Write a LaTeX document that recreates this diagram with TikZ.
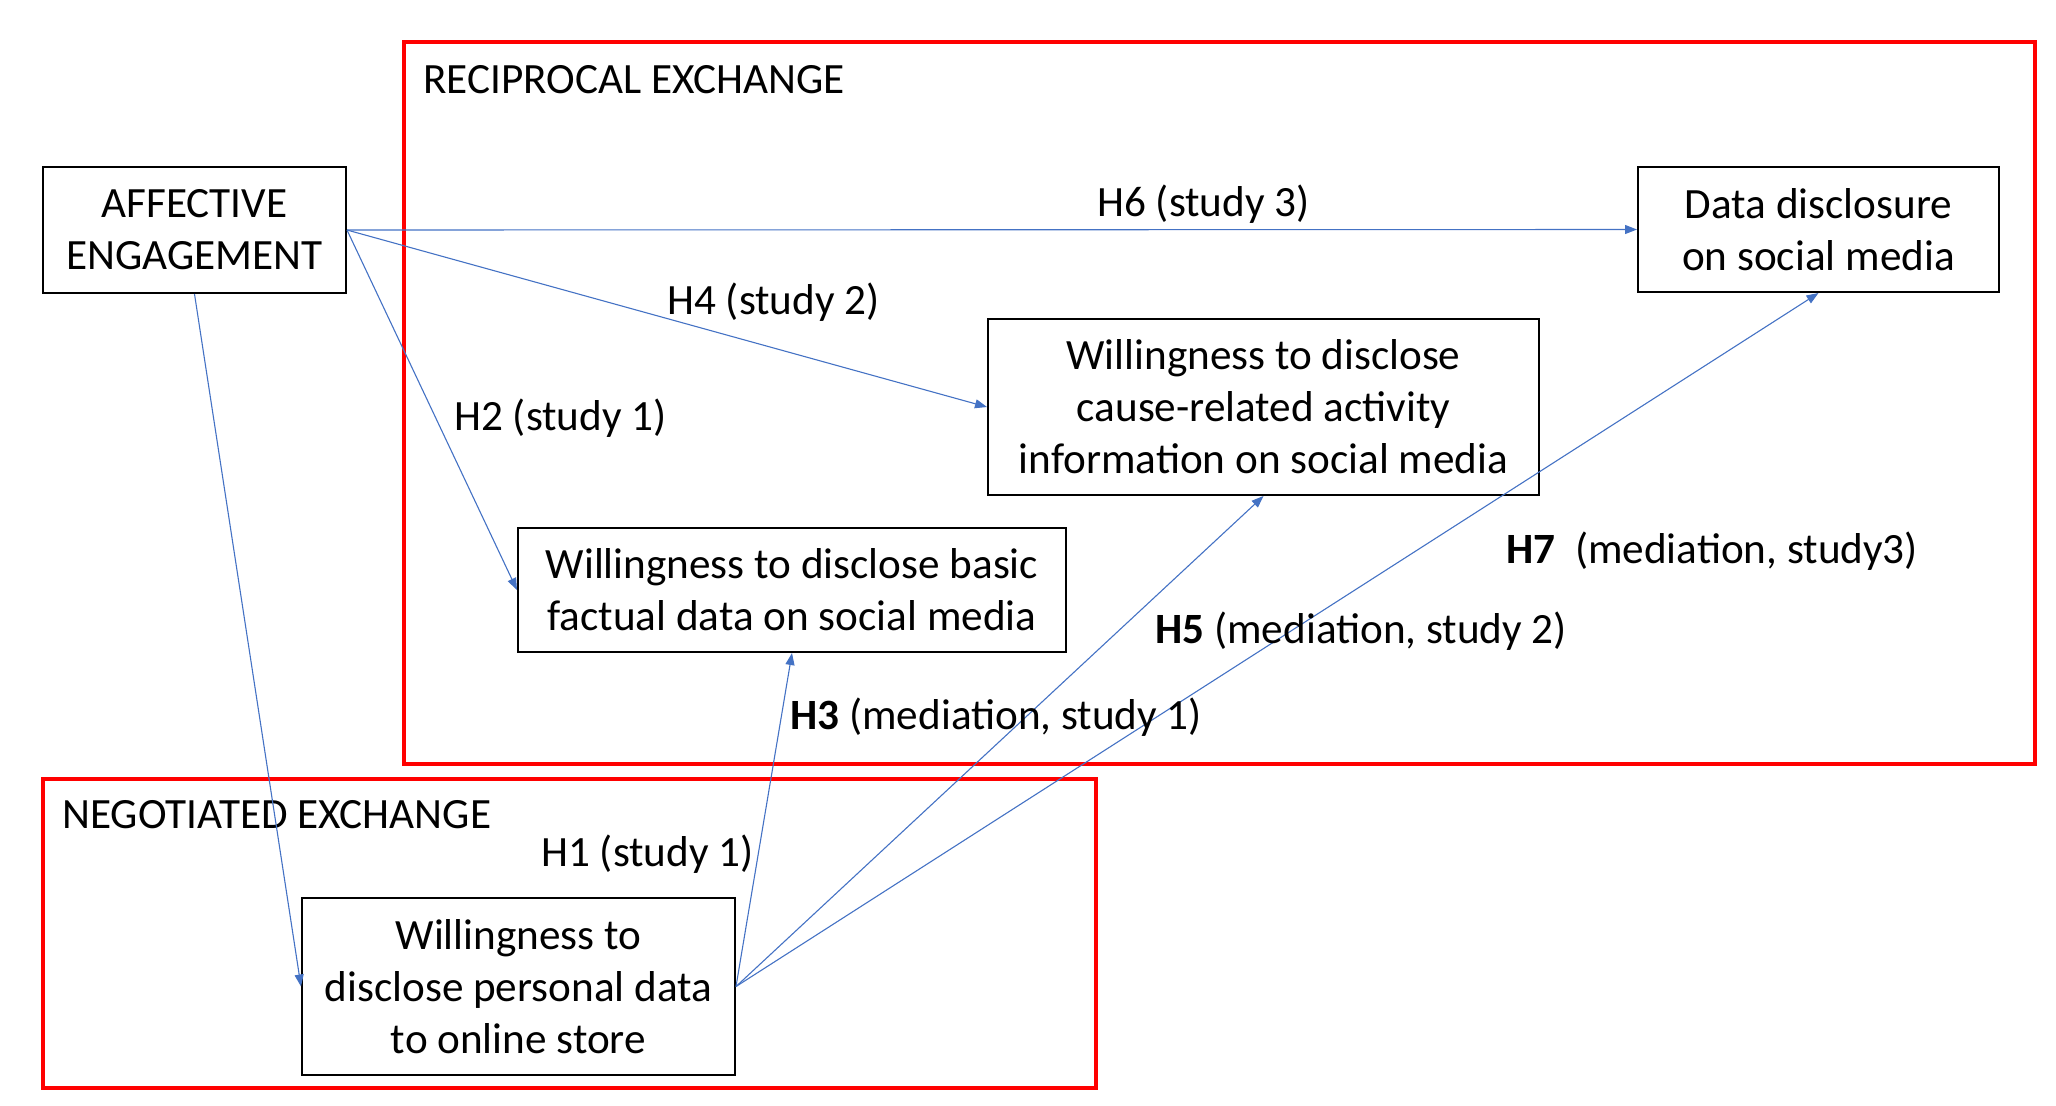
\documentclass[tikz,border=0pt]{standalone}
\usepackage{fontspec}
\setmainfont{Carlito}
\usetikzlibrary{arrows.meta}
\definecolor{arrowblue}{HTML}{4472C4}
\definecolor{framered}{HTML}{FF0000}
\tikzset{
  box/.style={draw=black, line width=1pt, inner sep=0pt, align=center, font=\fontsize{21.6}{26}\selectfont},
  lbl/.style={inner sep=0pt, anchor=base west, font=\fontsize{21.6}{26}\selectfont},
  frame/.style={draw=framered, line width=1.6pt},
  conn/.style={draw=arrowblue, line width=0.55pt, -{Triangle[length=6pt,width=4.5pt]}},
}
\begin{document}
\begin{tikzpicture}[x=0.5pt, y=-0.5pt]
\useasboundingbox (0,0) rectangle (2056,1105);
% frames
\draw[frame] (404,42) rectangle (2035,764);
\draw[frame] (43,779) rectangle (1096,1088);
\node[lbl] (recip) at (423,93) {RECIPROCAL EXCHANGE};
\node[lbl] (nego) at (62,828) {NEGOTIATED EXCHANGE};
% boxes
\node[box, minimum width=151.5pt, minimum height=63pt] (ae) at (194.5,230) {AFFECTIVE\\ENGAGEMENT};
\node[box, minimum width=180.5pt, minimum height=62.5pt] (dd) at (1818.5,229.5) {Data disclosure\\on social media};
\node[box, minimum width=275.5pt, minimum height=88pt] (cause) at (1263.5,407) {Willingness to disclose\\cause-related activity\\information on social media};
\node[box, minimum width=274pt, minimum height=62pt] (basic) at (792,590) {Willingness to disclose basic\\factual data on social media};
\node[box, minimum width=216.5pt, minimum height=88.5pt] (pers) at (518.5,986.5) {Willingness to\\disclose personal data\\to online store};
% connectors
\draw[conn] (ae.east) -- (dd.west);
\draw[conn] (ae.east) -- (cause.west);
\draw[conn] (ae.east) -- (basic.west);
\draw[conn] (ae.south) -- (pers.west);
\draw[conn] (pers.east) -- (basic.south);
\draw[conn] (pers.east) -- (cause.south);
\draw[conn] (pers.east) -- (dd.south);
% labels
\node[lbl] (h6) at (1097,216) {H6 (study 3)};
\node[lbl] (h4) at (667,314) {H4 (study 2)};
\node[lbl] (h2) at (454,430) {H2 (study 1)};
\node[lbl] (h1) at (541,866) {H1 (study 1)};
\node[lbl] (h3) at (790,729) {\textbf{H3} (mediation, study 1)};
\node[lbl] (h5) at (1155,643) {\textbf{H5} (mediation, study 2)};
\node[lbl] (h7) at (1506,563) {\textbf{H7}\ \ (mediation, study3)};
\end{tikzpicture}
\end{document}
